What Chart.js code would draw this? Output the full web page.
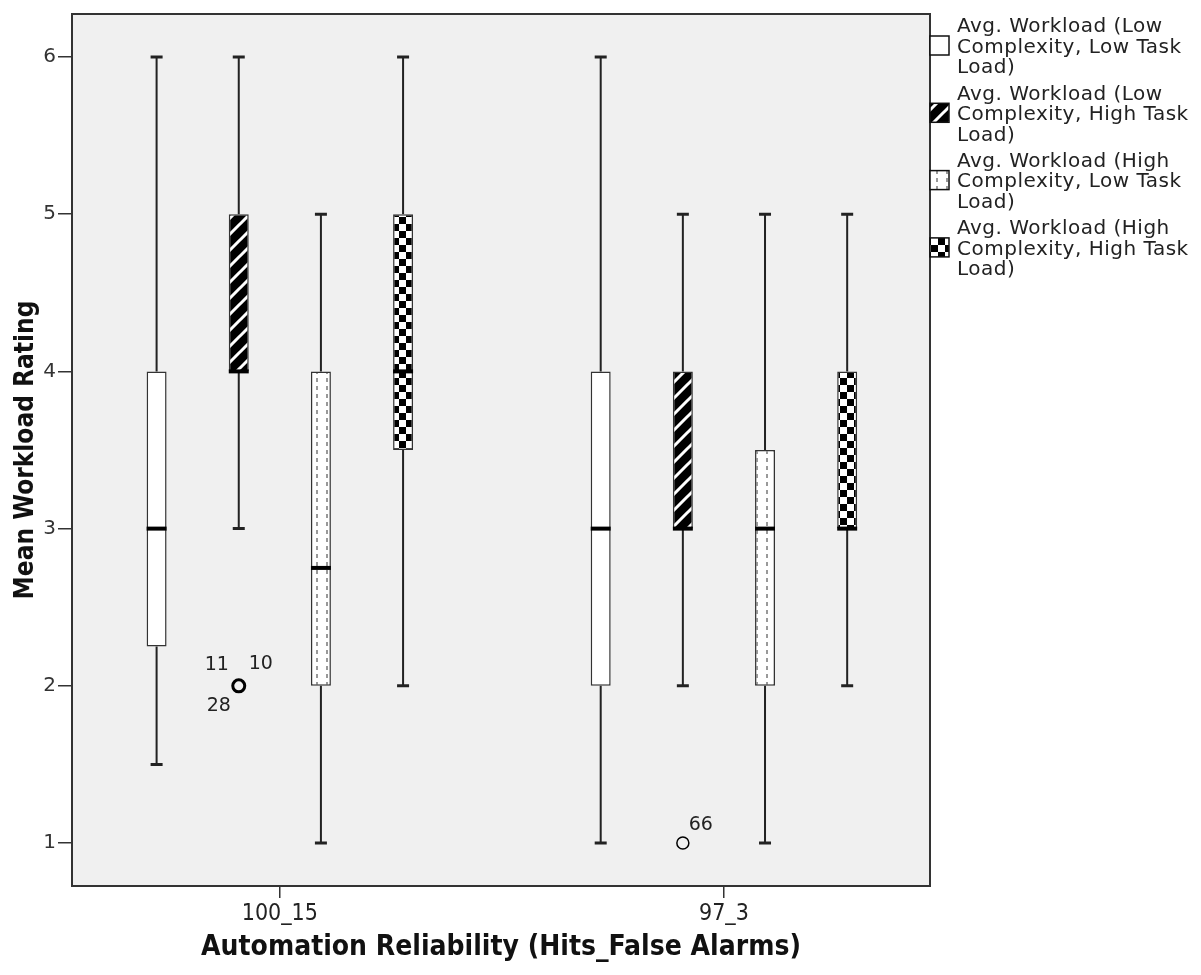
<!DOCTYPE html>
<html>
<head>
<meta charset="utf-8">
<title>Mean Workload Rating</title>
<script src="https://cdn.jsdelivr.net/npm/chart.js@4.4.1/dist/chart.umd.min.js"></script>
<style>
html, body { margin: 0; padding: 0; background: #fff; }
#caja { width: 1201px; height: 975px; }
</style>
</head>
<body>
<div id="caja"><canvas id="myChart"></canvas></div>
<script>
// condiciones de fiabilidad (eje x)
var categorias = ['100_15', '97_3'];
var yTicks = [1, 2, 3, 4, 5, 6];

// cada caja: [bigote min, Q1, mediana, Q3, bigote max], una por categoria
var lowLow   = [[1.5, 2.25, 3, 4, 6], [1, 2, 3, 4, 6]];
var lowHigh  = [[3, 4, 4, 5, 6], [2, 3, 3, 4, 5]];
var highLow  = [[1, 2, 2.75, 4, 5], [1, 2, 3, 3.5, 5]];
var highHigh = [[2, 3.5, 4, 5, 6], [2, 3, 3, 4, 5]];

var nombres = [
    ['Avg. Workload (Low', 'Complexity, Low Task', 'Load)'],
    ['Avg. Workload (Low', 'Complexity, High Task', 'Load)'],
    ['Avg. Workload (High', 'Complexity, Low Task', 'Load)'],
    ['Avg. Workload (High', 'Complexity, High Task', 'Load)']
];

// atipicos: serie, categoria, valor, casos
var atipSerie = [1, 1];
var atipCat = [0, 1];
var atipValor = [2, 1];
var atipCasos = [['11', '10', '28'], ['66']];

var condensada = "'Liberation Sans Narrow', 'DejaVu Sans Condensed', 'Roboto Condensed', sans-serif";
var normal = "'DejaVu Sans', 'Noto Sans', sans-serif";

function patron(tipo) {
    var c = document.createElement('canvas');
    var g = c.getContext('2d');
    if (tipo === 'rayas') {
        c.width = 16; c.height = 16;
        g.fillStyle = '#000';
        g.fillRect(0, 0, 16, 16);
        g.strokeStyle = '#fff';
        g.lineWidth = 3;
        g.beginPath();
        g.moveTo(-8, 8); g.lineTo(8, -8);
        g.moveTo(0, 16); g.lineTo(16, 0);
        g.moveTo(8, 24); g.lineTo(24, 8);
        g.stroke();
    } else if (tipo === 'puntos') {
        c.width = 10; c.height = 8;
        g.fillStyle = '#fff';
        g.fillRect(0, 0, 10, 8);
        g.fillStyle = '#999';
        g.fillRect(6, 2, 2, 4);
    } else if (tipo === 'damero') {
        c.width = 14; c.height = 14;
        g.fillStyle = '#fff';
        g.fillRect(0, 0, 14, 14);
        g.fillStyle = '#000';
        g.fillRect(0, 0, 7, 7);
        g.fillRect(7, 7, 7, 7);
    } else {
        c.width = 4; c.height = 4;
        g.fillStyle = '#fff';
        g.fillRect(0, 0, 4, 4);
    }
    return g.createPattern(c, 'repeat');
}

var cajas = [lowLow, lowHigh, highLow, highHigh];
var rellenos = [patron('blanco'), patron('rayas'), patron('puntos'), patron('damero')];

function datosCaja(serie) {
    var d = [];
    for (var i = 0; i < serie.length; i++) {
        d.push({ x: i, y: [serie[i][1], serie[i][3]] });
    }
    return d;
}

var datasets = [];
for (var k = 0; k < cajas.length; k++) {
    datasets.push({
        label: nombres[k].join(' '),
        data: datosCaja(cajas[k]),
        backgroundColor: rellenos[k],
        borderColor: '#333',
        borderWidth: 1.5,
        borderSkipped: false,
        categoryPercentage: 0.74,
        barPercentage: 0.243
    });
}

// fondo gris y marco del area de trazado
const marco = {
    id: 'marco',
    beforeDraw(chart) {
        const a = chart.chartArea, ctx = chart.ctx;
        ctx.save();
        ctx.fillStyle = '#f0f0f0';
        ctx.fillRect(a.left, a.top, a.right - a.left, a.bottom - a.top);
        ctx.restore();
    },
    afterDraw(chart) {
        const a = chart.chartArea, ctx = chart.ctx;
        ctx.save();
        ctx.strokeStyle = '#333';
        ctx.lineWidth = 2;
        ctx.strokeRect(a.left, a.top, a.right - a.left, a.bottom - a.top);
        ctx.restore();
    }
};

// bigotes, medianas y atipicos
const bigotes = {
    id: 'bigotes',
    beforeDatasetsDraw(chart) {
        const ctx = chart.ctx, y = chart.scales.y;
        ctx.save();
        ctx.strokeStyle = '#222';
        for (var k = 0; k < cajas.length; k++) {
            var meta = chart.getDatasetMeta(k);
            meta.data.forEach(function (bar, i) {
                var c = cajas[k][i];
                var x = bar.x;
                ctx.lineWidth = 2;
                ctx.beginPath();
                ctx.moveTo(x, y.getPixelForValue(c[0]));
                ctx.lineTo(x, y.getPixelForValue(c[1]));
                ctx.moveTo(x, y.getPixelForValue(c[3]));
                ctx.lineTo(x, y.getPixelForValue(c[4]));
                ctx.stroke();
                ctx.lineWidth = 3;
                ctx.beginPath();
                ctx.moveTo(x - 6, y.getPixelForValue(c[0]));
                ctx.lineTo(x + 6, y.getPixelForValue(c[0]));
                ctx.moveTo(x - 6, y.getPixelForValue(c[4]));
                ctx.lineTo(x + 6, y.getPixelForValue(c[4]));
                ctx.stroke();
            });
        }
        ctx.restore();
    },
    afterDatasetsDraw(chart) {
        const ctx = chart.ctx, y = chart.scales.y;
        ctx.save();
        ctx.strokeStyle = '#000';
        ctx.lineWidth = 4;
        for (var k = 0; k < cajas.length; k++) {
            var meta = chart.getDatasetMeta(k);
            meta.data.forEach(function (bar, i) {
                var py = y.getPixelForValue(cajas[k][i][2]);
                ctx.beginPath();
                ctx.moveTo(bar.x - bar.width / 2, py);
                ctx.lineTo(bar.x + bar.width / 2, py);
                ctx.stroke();
            });
        }
        ctx.font = '19px ' + normal;
        ctx.fillStyle = '#222';
        ctx.textAlign = 'center';
        ctx.textBaseline = 'middle';
        var desp = [[-22, -21], [22, -22], [-20, 20]];
        for (var j = 0; j < atipValor.length; j++) {
            var b = chart.getDatasetMeta(atipSerie[j]).data[atipCat[j]];
            var py = y.getPixelForValue(atipValor[j]);
            var varios = atipCasos[j].length > 1;
            ctx.lineWidth = varios ? 3 : 1.5;
            ctx.beginPath();
            ctx.arc(b.x, py, 6, 0, Math.PI * 2);
            ctx.stroke();
            atipCasos[j].forEach(function (caso, n) {
                var d = varios ? desp[n] : [18, -18];
                ctx.fillText(caso, b.x + d[0], py + d[1]);
            });
        }
        ctx.restore();
    }
};

// leyenda de la derecha, texto en tres lineas
const leyenda = {
    id: 'leyenda',
    afterDraw(chart) {
        const ctx = chart.ctx, a = chart.chartArea;
        ctx.save();
        ctx.font = '20px ' + normal;
        ctx.letterSpacing = '0.5px';
        ctx.textBaseline = 'middle';
        for (var k = 0; k < nombres.length; k++) {
            var y0 = 27 + k * 67.3;
            ctx.fillStyle = rellenos[k];
            ctx.fillRect(a.right, y0 + 9, 19, 19);
            ctx.strokeStyle = '#111';
            ctx.lineWidth = 1.5;
            ctx.strokeRect(a.right, y0 + 9, 19, 19);
            ctx.fillStyle = '#222';
            for (var l = 0; l < nombres[k].length; l++) {
                ctx.fillText(nombres[k][l], a.right + 27, y0 + l * 20.5);
            }
        }
        ctx.restore();
    }
};

const ctx = document.getElementById('myChart').getContext('2d');
const myChart = new Chart(ctx, {
    type: 'bar',
    data: { datasets: datasets },
    plugins: [marco, bigotes, leyenda],
    options: {
        responsive: true,
        maintainAspectRatio: false,
        animation: false,
        layout: { padding: { top: 12, right: 271, left: 0, bottom: 0 } },
        plugins: { legend: { display: false }, tooltip: { enabled: false } },
        scales: {
            x: {
                type: 'linear',
                offset: false,
                min: -0.468,
                max: 1.464,
                afterFit: function (s) { s.height = 89; },
                afterBuildTicks: function (s) {
                    s.ticks = categorias.map(function (c, i) { return { value: i }; });
                },
                grid: { offset: false, drawOnChartArea: false, tickLength: 12, color: '#333', lineWidth: 1.5 },
                border: { display: false },
                ticks: {
                    color: '#222',
                    padding: 2,
                    font: { family: condensada, size: 23 },
                    callback: function (v) { return categorias[v]; }
                },
                title: {
                    display: true,
                    text: 'Automation Reliability (Hits_False Alarms)',
                    color: '#111',
                    font: { family: condensada, size: 28, weight: 'bold' },
                    padding: { top: 0, bottom: 10 }
                }
            },
            y: {
                min: 0.727,
                max: 6.273,
                afterFit: function (s) { s.width = 72; },
                afterBuildTicks: function (s) {
                    s.ticks = yTicks.map(function (v) { return { value: v }; });
                },
                grid: { drawOnChartArea: false, tickLength: 14, color: '#333', lineWidth: 1.5 },
                border: { display: false },
                ticks: {
                    color: '#333',
                    padding: 2,
                    font: { family: normal, size: 20 }
                },
                title: {
                    display: true,
                    text: 'Mean Workload Rating',
                    color: '#111',
                    font: { family: condensada, size: 26, weight: 'bold' },
                    padding: { top: 11, bottom: 0 }
                }
            }
        }
    }
});
</script>
</body>
</html>
